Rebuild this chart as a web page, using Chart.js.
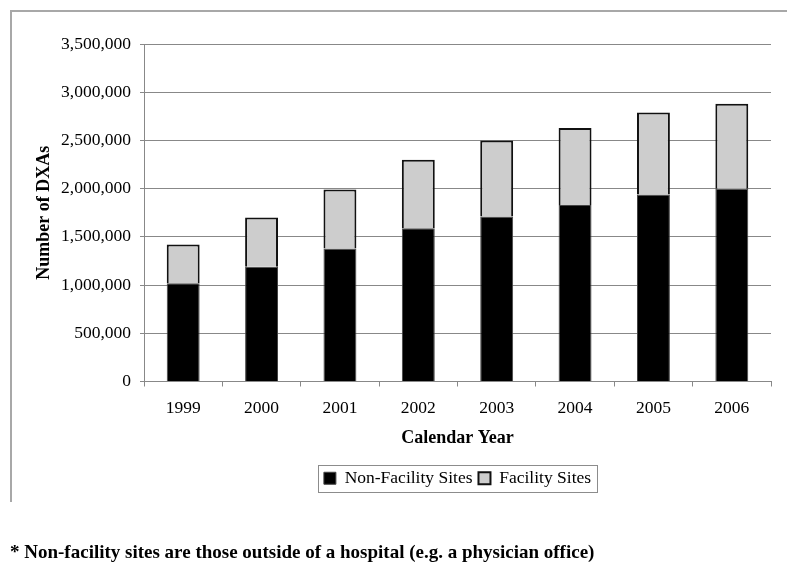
<!DOCTYPE html>
<html>
<head>
<meta charset="utf-8">
<script src="https://cdn.jsdelivr.net/npm/chart.js@4/dist/chart.umd.min.js"></script>
<style>
  html, body { margin: 0; padding: 0; background: #fff; }
  #wrap { position: relative; width: 795px; height: 571px; overflow: hidden; }
  #frame { position: absolute; left: 10px; top: 10px; width: 777px; height: 492px;
           border-top: 2px solid #a8a8a8; border-left: 2px solid #a8a8a8; box-sizing: border-box; }
  #dxa { position: absolute; left: 0; top: 0; }
  #note { position: absolute; left: 10px; top: 541px; font: bold 19px "Liberation Serif", serif; color: #000; white-space: nowrap; }
</style>
</head>
<body>
<div id="wrap">
  <div id="frame"></div>
  <canvas id="dxa" width="795" height="571"></canvas>
  <div id="note">* Non-facility sites are those outside of a hospital (e.g. a physician office)</div>
</div>
<script>
// values
var YEARS = ["1999", "2000", "2001", "2002", "2003", "2004", "2005", "2006"];
var NON_FACILITY = [1020000, 1190000, 1380000, 1590000, 1710000, 1830000, 1940000, 2000000];
var FACILITY = [400000, 510000, 610000, 710000, 790000, 800000, 850000, 880000];
var Y_MAX = 3500000;
var Y_STEP = 500000;

var SERIF = "'Liberation Serif', 'Times New Roman', serif";

// box drawn round the legend items
var legendFrame = {
  id: "legendFrame",
  afterDraw: function(chart) {
    var boxes = chart.legend && chart.legend.legendHitBoxes;
    if (!boxes || !boxes.length) return;
    var first = boxes[0], last = boxes[boxes.length - 1];
    var ctx = chart.ctx;
    ctx.save();
    ctx.strokeStyle = "#8c8c8c";
    ctx.lineWidth = 1;
    var x0 = Math.round(first.left - 6) + 0.5;
    var x1 = Math.round(last.left + last.width + 6) + 0.5;
    var y0 = Math.round(first.top - 5) + 0.5;
    var y1 = Math.round(first.top + first.height + 5) + 0.5;
    ctx.strokeRect(x0, y0, x1 - x0, y1 - y0);
    ctx.restore();
  }
};

new Chart(document.getElementById("dxa").getContext("2d"), {
  type: "bar",
  data: {
    labels: YEARS,
    datasets: [
      {
        label: "Non-Facility Sites",
        data: NON_FACILITY,
        backgroundColor: "#000000",
        borderColor: "#444444",
        borderWidth: 1,
        barPercentage: 0.6,
        categoryPercentage: 0.7
      },
      {
        label: "Facility Sites",
        data: FACILITY,
        backgroundColor: "#cdcdcd",
        borderColor: "#111111",
        borderWidth: 2,
        barPercentage: 0.6,
        categoryPercentage: 0.7
      }
    ]
  },
  options: {
    responsive: false,
    animation: false,
    layout: { padding: { left: 10, right: 24, top: 44, bottom: 74 } },
    plugins: {
      tooltip: { enabled: false },
      legend: {
        position: "bottom",
        fullSize: false,
        labels: {
          color: "#000",
          font: { family: SERIF, size: 17.5 },
          boxWidth: 12,
          boxHeight: 12,
          padding: 6
        }
      }
    },
    scales: {
      x: {
        stacked: true,
        afterFit: function(scale) { scale.height = 82; },
        grid: { drawOnChartArea: false, drawTicks: true, tickLength: 5, color: "#888" },
        border: { color: "#888", width: 1 },
        ticks: { color: "#000", font: { family: SERIF, size: 17.5 }, padding: 11 },
        title: {
          display: true,
          text: "Calendar Year",
          color: "#000",
          font: { family: SERIF, size: 18, weight: "bold" },
          padding: { top: 0, bottom: 14 }
        }
      },
      y: {
        stacked: true,
        min: 0,
        max: Y_MAX,
        afterFit: function(scale) { scale.width = 134; },
        grid: { color: "#888", tickLength: 4, lineWidth: 1 },
        border: { color: "#888", width: 1 },
        ticks: {
          stepSize: Y_STEP,
          color: "#000",
          padding: 9,
          font: { family: SERIF, size: 17.5 },
          callback: function(v) { return Number(v).toLocaleString("en-US"); }
        },
        title: {
          display: true,
          text: "Number of DXAs",
          color: "#000",
          font: { family: SERIF, size: 18, weight: "bold" },
          padding: { top: 24, bottom: 0 }
        }
      }
    }
  },
  plugins: [legendFrame]
});
</script>
</body>
</html>
